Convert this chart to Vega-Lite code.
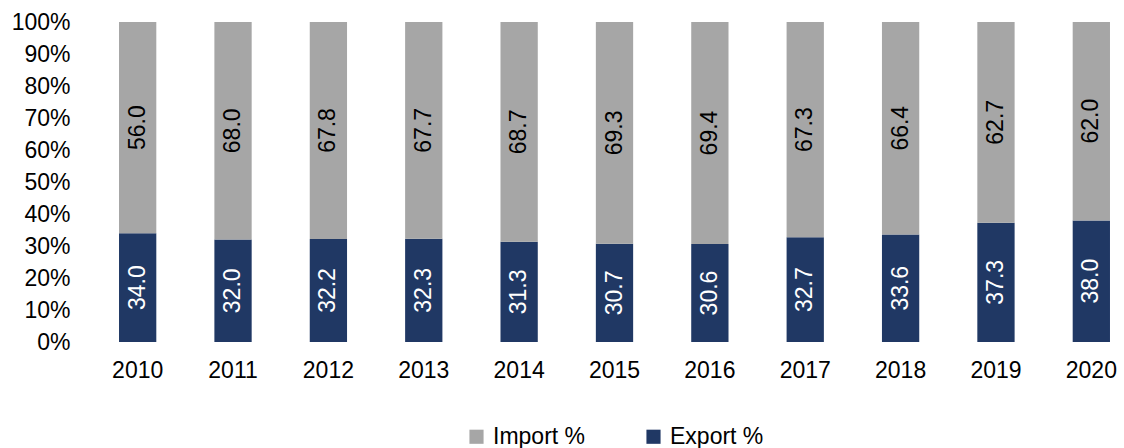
{
  "$schema": "https://vega.github.io/schema/vega-lite/v6.json",
  "autosize": "none",
  "padding": {"left": 105, "top": 22, "right": 0, "bottom": 106},
  "width": 1019,
  "height": 320,
  "background": "white",
  "config": {
    "font": "Liberation Sans",
    "view": {"stroke": null},
    "axis": {"domain": false, "ticks": false, "grid": false, "labelFont": "Liberation Sans", "labelFontSize": 23, "labelColor": "black", "labelOverlap": false},
    "legend": {"layout": {"bottom": {"anchor": "middle"}}}
  },
  "data": {
    "values": [
      {"year": "2010", "type": "Export %", "value": 34.0, "label": "34.0"},
      {"year": "2010", "type": "Import %", "value": 66.0, "label": "56.0"},
      {"year": "2011", "type": "Export %", "value": 32.0, "label": "32.0"},
      {"year": "2011", "type": "Import %", "value": 68.0, "label": "68.0"},
      {"year": "2012", "type": "Export %", "value": 32.2, "label": "32.2"},
      {"year": "2012", "type": "Import %", "value": 67.8, "label": "67.8"},
      {"year": "2013", "type": "Export %", "value": 32.3, "label": "32.3"},
      {"year": "2013", "type": "Import %", "value": 67.7, "label": "67.7"},
      {"year": "2014", "type": "Export %", "value": 31.3, "label": "31.3"},
      {"year": "2014", "type": "Import %", "value": 68.7, "label": "68.7"},
      {"year": "2015", "type": "Export %", "value": 30.7, "label": "30.7"},
      {"year": "2015", "type": "Import %", "value": 69.3, "label": "69.3"},
      {"year": "2016", "type": "Export %", "value": 30.6, "label": "30.6"},
      {"year": "2016", "type": "Import %", "value": 69.4, "label": "69.4"},
      {"year": "2017", "type": "Export %", "value": 32.7, "label": "32.7"},
      {"year": "2017", "type": "Import %", "value": 67.3, "label": "67.3"},
      {"year": "2018", "type": "Export %", "value": 33.6, "label": "33.6"},
      {"year": "2018", "type": "Import %", "value": 66.4, "label": "66.4"},
      {"year": "2019", "type": "Export %", "value": 37.3, "label": "37.3"},
      {"year": "2019", "type": "Import %", "value": 62.7, "label": "62.7"},
      {"year": "2020", "type": "Export %", "value": 38.0, "label": "38.0"},
      {"year": "2020", "type": "Import %", "value": 62.0, "label": "62.0"}
    ]
  },
  "encoding": {
    "x": {
      "field": "year", "type": "nominal",
      "scale": {"paddingInner": 0.609, "paddingOuter": 0.147},
      "axis": {"title": null, "labelAngle": 0, "labelPadding": 17}
    }
  },
  "layer": [
    {
      "mark": {"type": "bar"},
      "encoding": {
        "y": {
          "field": "value", "type": "quantitative", "stack": "zero",
          "scale": {"domain": [0, 100], "nice": false},
          "axis": {"title": null, "values": [0, 10, 20, 30, 40, 50, 60, 70, 80, 90, 100], "labelExpr": "datum.value + '%'", "labelPadding": 35, "labelOverlap": false, "labelFlush": false}
        },
        "color": {
          "field": "type", "type": "nominal",
          "scale": {"domain": ["Import %", "Export %"], "range": ["#A6A6A6", "#203864"]},
          "legend": {"title": null, "orient": "bottom", "direction": "horizontal", "symbolType": "square", "symbolSize": 200, "symbolStrokeWidth": 0, "labelFontSize": 23, "labelFont": "Liberation Sans", "labelColor": "black", "columnPadding": 56, "offset": 43, "labelOffset": 5}
        },
        "order": {"field": "type", "sort": "ascending"}
      }
    },
    {
      "mark": {"type": "text", "angle": 270, "fontSize": 23, "font": "Liberation Sans", "align": "center", "baseline": "middle"},
      "encoding": {
        "y": {
          "field": "value", "type": "quantitative", "stack": "zero", "bandPosition": 0.5,
          "scale": {"domain": [0, 100], "nice": false},
          "axis": {"title": null, "values": [0, 10, 20, 30, 40, 50, 60, 70, 80, 90, 100], "labelExpr": "datum.value + '%'", "labelPadding": 35, "labelOverlap": false, "labelFlush": false}
        },
        "text": {"field": "label"},
        "order": {"field": "type", "sort": "ascending"},
        "color": {"condition": {"test": "datum.type === 'Export %'", "value": "white"}, "value": "black"}
      }
    }
  ]
}
